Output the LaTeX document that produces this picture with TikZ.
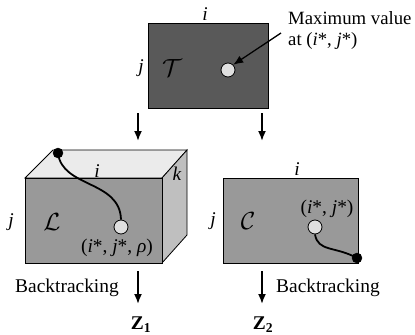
\documentclass[tikz,border=0pt]{standalone}
\usepackage{fontspec}
\setmainfont{Liberation Serif}
\usetikzlibrary{arrows.meta}
\begin{document}
\begin{tikzpicture}[x=1bp,y=-1bp,
  every node/.style={font=\fontsize{19.5}{21}\selectfont, inner sep=0pt},
  scr/.style={font=\fontsize{23}{24}\selectfont},
  face/.style={draw=black, line width=0.8pt},
  down/.style={-{Latex[length=10pt,width=8pt]}, line width=1.8pt},
  dot/.style={circle, draw=black, fill=black, minimum size=10bp},
  ring/.style={circle, draw=black, line width=0.8pt, fill=gray!25, minimum size=14bp},
  path/.style={line width=1.8pt}]
\useasboundingbox (0,0) rectangle (415,335);
% top T
\node[face, fill=black!65, minimum width=120bp, minimum height=85bp] (T) at (208,65.5) {};
\node at (205,14) {\textit{i}};
\node at (141,68) {\textit{j}};
\node[scr] at (172,68) {$\mathcal{T}$};
\node[ring] (Tc) at (228,70) {};
\node[anchor=north west, align=left, font=\fontsize{18.8}{21}\selectfont] (max) at (288,11) {Maximum value\\at (\textit{i}*, \textit{j}*)};
\coordinate (mx) at (281,33);
\draw[down, line width=1.3pt] (mx) -- (Tc.north east);
% arrows from T
\coordinate (a1) at (138,113);
\coordinate (b1) at (138,141);
\coordinate (a2) at (262,113);
\coordinate (b2) at (262,141);
\draw[down] (a1) -- (b1);
\draw[down] (a2) -- (b2);
% box L
\path[face, fill=black!8] (25,178) -- (53,150) -- (187,150) -- (162,178) -- cycle;
\path[face, fill=black!25] (162,178) -- (187,150) -- (187,235) -- (162,263) -- cycle;
\node[face, fill=black!40, minimum width=137bp, minimum height=85bp] (L) at (93.5,220.5) {};
\node at (97,171) {\textit{i}};
\node at (177,174) {\textit{k}};
\node at (11,222) {\textit{j}};
\node[scr] at (52,222) {$\mathcal{L}$};
\node at (117,248) {(\textit{i}*, \textit{j}*, \textit{ρ})};
\node[dot] (Ld) at (58,153) {};
\node[ring] (Lc) at (121,227) {};
\draw[path] (Ld.center) .. controls (62,188) and (120,180) .. (Lc.north);
% box C
\node[face, fill=black!40, minimum width=135bp, minimum height=85bp] (C) at (290.5,220.5) {};
\node at (297,169) {\textit{i}};
\node at (213,221) {\textit{j}};
\node[scr] at (248,221) {$\mathcal{C}$};
\node at (327,209) {(\textit{i}*, \textit{j}*)};
\node[ring] (Cc) at (315,227) {};
\node[dot] (Cd) at (357,258) {};
\draw[path] (Cc.south) .. controls (318,252) and (335,246) .. (Cd.center);
% bottom arrows
\coordinate (c1) at (138,271);
\coordinate (d1) at (138,304);
\coordinate (c2) at (262,271);
\coordinate (d2) at (262,304);
\draw[down] (c1) -- (d1);
\draw[down] (c2) -- (d2);
\node[anchor=east] (bt1) at (119,288) {Backtracking};
\node[anchor=west] (bt2) at (276,288) {Backtracking};
\node (Z1) at (141,325) {\textbf{Z}\textsubscript{\textbf{1}}};
\node (Z2) at (263,325) {\textbf{Z}\textsubscript{\textbf{2}}};
\end{tikzpicture}
\end{document}
